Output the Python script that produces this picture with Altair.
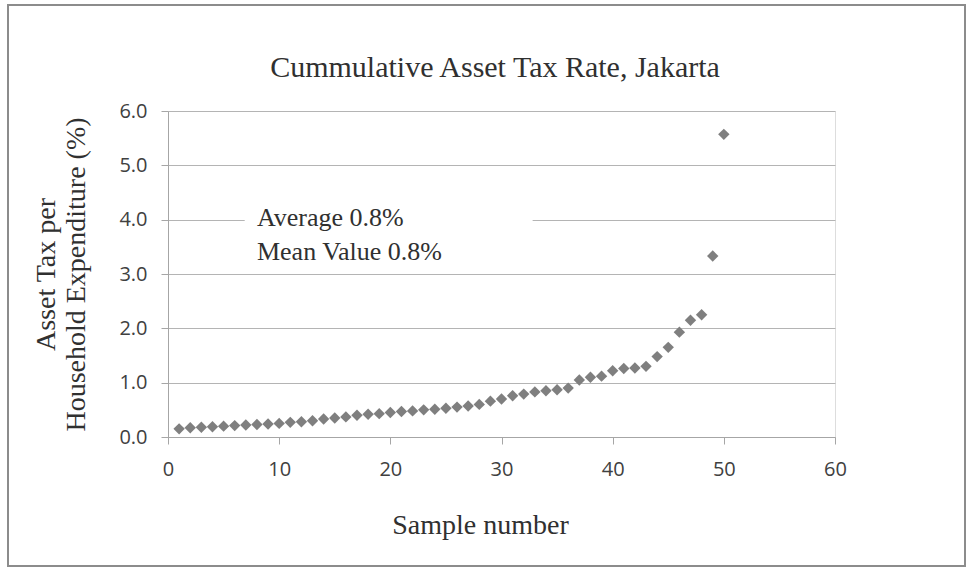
import altair as alt
import pandas as pd

sample = list(range(1, 51))
tax_rate = [0.15, 0.17, 0.18, 0.19, 0.20, 0.21, 0.22, 0.23, 0.24, 0.25,
            0.27, 0.28, 0.30, 0.33, 0.35, 0.37, 0.40, 0.42, 0.43, 0.45,
            0.47, 0.48, 0.50, 0.51, 0.53, 0.55, 0.57, 0.60, 0.66, 0.70,
            0.76, 0.79, 0.83, 0.85, 0.87, 0.90, 1.05, 1.10, 1.12, 1.22,
            1.26, 1.27, 1.30, 1.48, 1.65, 1.93, 2.15, 2.25, 3.33, 5.57]

x_ticks = [0, 10, 20, 30, 40, 50, 60]
y_ticks = [0, 1, 2, 3, 4, 5, 6]

title_text = ["Cummulative Asset Tax Rate, Jakarta"]
x_title = "Sample number"
y_title = ["Asset Tax  per", "Household Expenditure (%)"]
note_lines = ["Average  0.8%", "Mean Value 0.8%"]

# annotation placement (data coordinates)
note_x = [8]
note_y = [4.03]
box_x = [6.9]
box_x2 = [32.8]
box_y = [3.35]
box_y2 = [4.3]

df = pd.DataFrame({"sample": sample, "rate": tax_rate})
note_df = pd.DataFrame({"x": note_x, "y": note_y, "t": [note_lines]})
box_df = pd.DataFrame({"x": box_x, "x2": box_x2, "y": box_y, "y2": box_y2})
title_df = pd.DataFrame({"t": title_text})

serif = "Liberation Serif"
sans = "Open Sans"
axis_grey = "#a6a6a6"

xscale = alt.Scale(domain=[0, 60], nice=False, zero=False)
yscale = alt.Scale(domain=[0, 6], nice=False)

points = alt.Chart(df).mark_point(
    shape="diamond", filled=True, size=130, color="#7f7f7f", opacity=1
).encode(
    x=alt.X("sample:Q", scale=xscale,
            axis=alt.Axis(values=x_ticks, title=x_title, grid=False, labelFlush=False,
                          labelFont=sans, labelFontSize=20, labelColor="#404040",
                          labelPadding=15, tickSize=7, tickColor=axis_grey,
                          domainColor=axis_grey, titleFont=serif, titleFontSize=28,
                          titleFontWeight="normal", titleColor="#303030",
                          titlePadding=32, titleX=312)),
    y=alt.Y("rate:Q", scale=yscale,
            axis=alt.Axis(values=y_ticks, format=".1f", title=y_title, grid=True,
                          labelFlush=False,
                          gridColor="#b4b4b4", labelFont=sans, labelFontSize=20,
                          labelColor="#404040", labelPadding=14, tickSize=7,
                          tickColor=axis_grey, domainColor=axis_grey,
                          titleFont=serif, titleFontSize=28, titleFontWeight="normal",
                          titleColor="#303030", titlePadding=28, titleLineHeight=30)),
)

box = alt.Chart(box_df).mark_rect(color="white").encode(
    x=alt.X("x:Q", scale=xscale), x2="x2:Q",
    y=alt.Y("y:Q", scale=yscale), y2="y2:Q",
)

note = alt.Chart(note_df).mark_text(
    align="left", baseline="middle", font=serif, fontSize=26,
    color="#303030", lineHeight=34
).encode(
    x=alt.X("x:Q", scale=xscale), y=alt.Y("y:Q", scale=yscale), text="t"
)

title = alt.Chart(title_df).mark_text(
    align="center", baseline="middle", font=serif, fontSize=30, color="#303030"
).encode(x=alt.value(327), y=alt.value(-43), text="t")

frame = alt.Chart(box_df).mark_rect(
    fill=None, stroke="#8c8c8c", strokeWidth=2
).encode(
    x=alt.value(-160), x2=alt.value(797), y=alt.value(-106), y2=alt.value(455)
)

chart = alt.layer(frame, points, box, note, title).properties(
    width=667, height=326,
    autosize=alt.AutoSizeParams(type="none"),
    padding={"left": 168, "top": 111, "right": 137, "bottom": 134},
).configure_view(stroke=None).configure(background="white")

chart.save("out.html", embed_options={"renderer": "svg", "actions": False})
